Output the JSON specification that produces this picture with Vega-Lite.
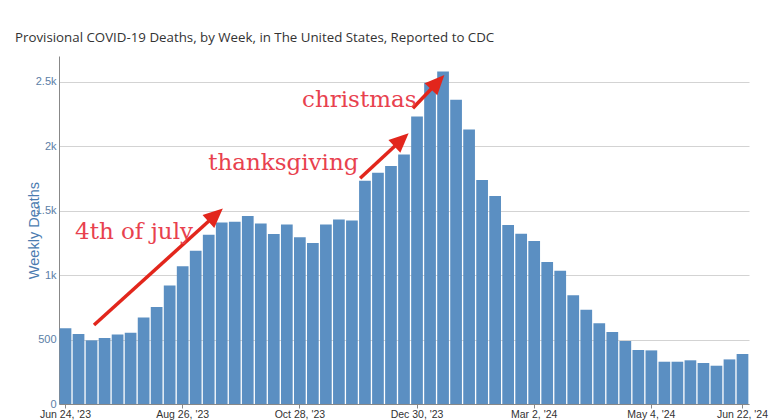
{
  "$schema": "https://vega.github.io/schema/vega-lite/v6.json",
  "width": 690,
  "height": 348,
  "autosize": {"type": "none"},
  "padding": {"left": 59, "top": 56, "right": 31, "bottom": 16},
  "background": "white",
  "title": {
    "text": "Provisional COVID-19 Deaths, by Week, in The United States, Reported to CDC",
    "anchor": "start",
    "frame": "group",
    "dx": -44,
    "offset": 12,
    "font": "Open Sans",
    "fontSize": 13.3,
    "fontWeight": "normal",
    "color": "#333333"
  },
  "config": {"view": {"stroke": null}},
  "datasets": {
    "deaths": [
      {"week": "2023-06-24", "deaths": 587},
      {"week": "2023-07-01", "deaths": 543},
      {"week": "2023-07-08", "deaths": 494},
      {"week": "2023-07-15", "deaths": 512},
      {"week": "2023-07-22", "deaths": 540},
      {"week": "2023-07-29", "deaths": 553},
      {"week": "2023-08-05", "deaths": 672},
      {"week": "2023-08-12", "deaths": 752},
      {"week": "2023-08-19", "deaths": 920},
      {"week": "2023-08-26", "deaths": 1068},
      {"week": "2023-09-02", "deaths": 1189},
      {"week": "2023-09-09", "deaths": 1313},
      {"week": "2023-09-16", "deaths": 1409},
      {"week": "2023-09-23", "deaths": 1414},
      {"week": "2023-09-30", "deaths": 1458},
      {"week": "2023-10-07", "deaths": 1401},
      {"week": "2023-10-14", "deaths": 1318},
      {"week": "2023-10-21", "deaths": 1393},
      {"week": "2023-10-28", "deaths": 1293},
      {"week": "2023-11-04", "deaths": 1249},
      {"week": "2023-11-11", "deaths": 1393},
      {"week": "2023-11-18", "deaths": 1432},
      {"week": "2023-11-25", "deaths": 1424},
      {"week": "2023-12-02", "deaths": 1732},
      {"week": "2023-12-09", "deaths": 1794},
      {"week": "2023-12-16", "deaths": 1846},
      {"week": "2023-12-23", "deaths": 1936},
      {"week": "2023-12-30", "deaths": 2231},
      {"week": "2024-01-06", "deaths": 2492},
      {"week": "2024-01-13", "deaths": 2580},
      {"week": "2024-01-20", "deaths": 2360},
      {"week": "2024-01-27", "deaths": 2130},
      {"week": "2024-02-03", "deaths": 1737},
      {"week": "2024-02-10", "deaths": 1613},
      {"week": "2024-02-17", "deaths": 1388},
      {"week": "2024-02-24", "deaths": 1321},
      {"week": "2024-03-02", "deaths": 1264},
      {"week": "2024-03-09", "deaths": 1101},
      {"week": "2024-03-16", "deaths": 1034},
      {"week": "2024-03-23", "deaths": 843},
      {"week": "2024-03-30", "deaths": 732},
      {"week": "2024-04-06", "deaths": 626},
      {"week": "2024-04-13", "deaths": 558},
      {"week": "2024-04-20", "deaths": 489},
      {"week": "2024-04-27", "deaths": 419},
      {"week": "2024-05-04", "deaths": 416},
      {"week": "2024-05-11", "deaths": 328},
      {"week": "2024-05-18", "deaths": 328},
      {"week": "2024-05-25", "deaths": 339},
      {"week": "2024-06-01", "deaths": 318},
      {"week": "2024-06-08", "deaths": 297},
      {"week": "2024-06-15", "deaths": 346},
      {"week": "2024-06-22", "deaths": 388}
    ],
    "arrows": [
      {"x": 2.69, "y": 613, "x2": 12.0, "y2": 1464, "heading": 47.8},
      {"x": 23.13, "y": 1751, "x2": 26.28, "y2": 2047, "heading": 47.1},
      {"x": 27.18, "y": 2294, "x2": 29.06, "y2": 2494, "heading": 43.5}
    ],
    "notes": [
      {"x": 1.23, "y": 1278, "label": "4th of july"},
      {"x": 11.46, "y": 1815, "label": "thanksgiving"},
      {"x": 18.67, "y": 2306, "label": "christmas"}
    ]
  },
  "layer": [
    {
      "data": {"name": "deaths"},
      "mark": {"type": "bar", "color": "#5b8fc2"},
      "encoding": {
        "x": {
          "field": "week",
          "type": "ordinal",
          "scale": {"paddingInner": 0.1, "paddingOuter": 0.05},
          "axis": {
            "values": ["2023-06-24", "2023-08-26", "2023-10-28", "2023-12-30", "2024-03-02", "2024-05-04", "2024-06-22"],
            "labelExpr": "utcFormat(toDate(datum.value), \"%b %-d, '%y\")",
            "title": null,
            "labelAngle": 0,
            "labelFont": "Liberation Sans",
            "labelFontSize": 10.5,
            "labelColor": "#333333",
            "labelPadding": 1,
            "labelOverlap": false,
            "labelBound": false,
            "tickSize": 4,
            "tickColor": "#888888",
            "domainColor": "#888888",
            "grid": false
          }
        },
        "y": {
          "field": "deaths",
          "type": "quantitative",
          "scale": {"domain": [0, 2700], "nice": false},
          "axis": {
            "values": [0, 500, 1000, 1500, 2000, 2500],
            "labelExpr": "datum.value < 1000 ? format(datum.value, 'd') : format(datum.value / 1000, '~g') + 'k'",
            "title": "Weekly Deaths",
            "titleColor": "#4b7cb0",
            "titleFont": "Liberation Sans",
            "titleFontSize": 14.5,
            "titleFontWeight": "normal",
            "titleAngle": -90,
            "titleX": -25,
            "titleY": 174,
            "titleAlign": "center",
            "titleBaseline": "middle",
            "labelColor": "#5b7ea6",
            "labelFont": "Liberation Sans",
            "labelFontSize": 11,
            "labelPadding": 3,
            "tickSize": 0,
            "domainColor": "#888888",
            "gridColor": "#d3d3d3",
            "grid": true
          }
        }
      }
    },
    {
      "data": {"name": "arrows"},
      "mark": {"type": "rule", "color": "#e2261c", "strokeWidth": 3.5},
      "encoding": {
        "x": {"field": "x", "type": "quantitative", "scale": {"domain": [0, 53], "nice": false, "zero": false}, "axis": null},
        "x2": {"field": "x2"},
        "y": {"field": "y", "type": "quantitative", "scale": {"domain": [0, 2700], "nice": false}},
        "y2": {"field": "y2"}
      }
    },
    {
      "data": {"name": "arrows"},
      "mark": {"type": "point", "shape": "M0,-1L0.85,0.9L-0.85,0.9Z", "filled": true, "color": "#e2261c", "size": 420, "opacity": 1, "strokeWidth": 0},
      "encoding": {
        "x": {"field": "x2", "type": "quantitative", "scale": {"domain": [0, 53], "nice": false, "zero": false}, "axis": null},
        "y": {"field": "y2", "type": "quantitative", "scale": {"domain": [0, 2700], "nice": false}},
        "angle": {"field": "heading", "type": "quantitative", "scale": null}
      }
    },
    {
      "data": {"name": "notes"},
      "mark": {"type": "text", "align": "left", "baseline": "alphabetic", "font": "DejaVu Serif", "fontSize": 23, "color": "#e8414e"},
      "encoding": {
        "x": {"field": "x", "type": "quantitative", "scale": {"domain": [0, 53], "nice": false, "zero": false}, "axis": null},
        "y": {"field": "y", "type": "quantitative", "scale": {"domain": [0, 2700], "nice": false}},
        "text": {"field": "label"}
      }
    }
  ],
  "resolve": {"scale": {"x": "independent"}}
}
